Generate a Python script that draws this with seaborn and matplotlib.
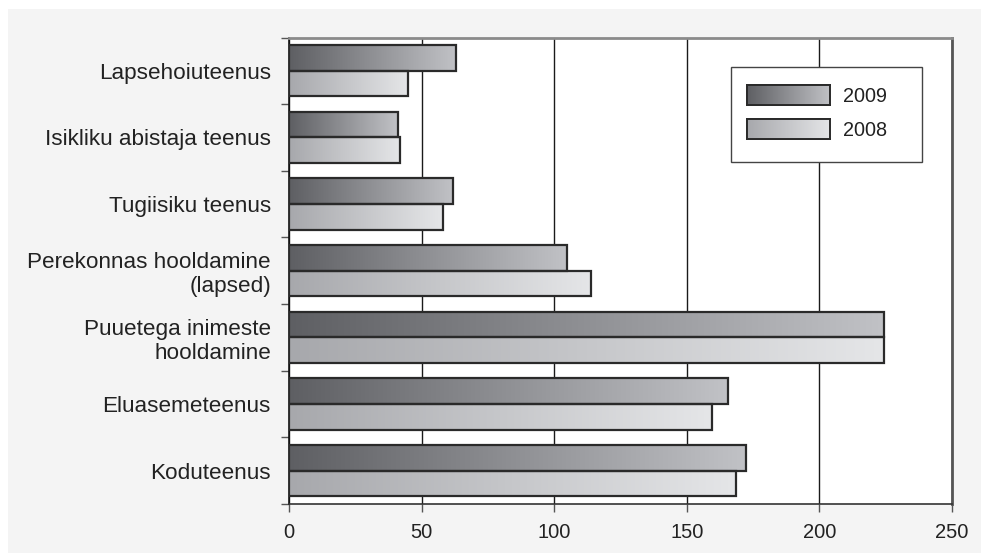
import numpy as np
import pandas as pd
import matplotlib
matplotlib.use("Agg")
import matplotlib.pyplot as plt
import seaborn as sns
from matplotlib.colors import LinearSegmentedColormap
from matplotlib.patches import Rectangle

categories = ["Lapsehoiuteenus", "Isikliku abistaja teenus", "Tugiisiku teenus",
              "Perekonnas hooldamine\n(lapsed)", "Puuetega inimeste\nhooldamine",
              "Eluasemeteenus", "Koduteenus"]
years = ["2009", "2008"]
values_2009 = [63, 41, 62, 105, 224.5, 165.5, 172.5]
values_2008 = [45, 42, 58, 114, 224.5, 159.5, 168.5]
x_ticks = [0, 50, 100, 150, 200, 250]

df = pd.DataFrame({
    "category": categories * 2,
    "year": [years[0]] * len(categories) + [years[1]] * len(categories),
    "value": values_2009 + values_2008,
})

sns.set_theme(style="white")
plt.rcParams["font.family"] = ["Liberation Sans", "DejaVu Sans"]

W, H = 981, 553
fig = plt.figure(figsize=(W / 100, H / 100), dpi=100, facecolor="white")
fig.patches.append(Rectangle((8 / W, 0), 1, (H - 9) / H, transform=fig.transFigure,
                             facecolor="#f4f4f4", edgecolor="none", zorder=-10))

ax = fig.add_axes([289 / W, (H - 504) / H, (952 - 289) / W, (504 - 37.5) / H])
ax.set_facecolor("white")

sns.barplot(data=df, x="value", y="category", hue="year", hue_order=years,
            order=categories, orient="h", width=0.77, ax=ax, legend=False,
            facecolor="none", edgecolor="#2a2a2a", linewidth=1.6, zorder=3)

cmaps = {
    0: LinearSegmentedColormap.from_list("g9", ["#5e5f63", "#c1c2c6"]),
    1: LinearSegmentedColormap.from_list("g8", ["#a7a8ac", "#e5e6e8"]),
}
grad = np.linspace(0, 1, 256).reshape(1, -1)
for ci, cont in enumerate(ax.containers):
    for p in cont:
        p.set_facecolor("none")
        p.set_edgecolor("#2a2a2a")
        p.set_zorder(3)
        x0, y0 = p.get_x(), p.get_y()
        w, h = p.get_width(), p.get_height()
        ax.imshow(grad, cmap=cmaps[ci], aspect="auto",
                  extent=[x0, x0 + w, y0 + h, y0], zorder=2.5, interpolation="bicubic")

ax.set_xlim(0, 250)
ax.set_ylim(len(categories) - 0.5, -0.5)
ax.set_xticks(x_ticks)
ax.set_xticklabels([str(t) for t in x_ticks])
ax.set_xlabel("")
ax.set_ylabel("")

# gridlines
ax.set_axisbelow(True)
ax.xaxis.grid(True, color="#1a1a1a", linewidth=1.0)
ax.yaxis.grid(False)

# y labels, right aligned
ax.set_yticks(np.arange(len(categories)))
ax.set_yticklabels(categories, fontsize=16.2, color="#222222", ha="right",
                   multialignment="right")
ax.tick_params(axis="y", which="major", length=0, pad=13)
ax.set_yticks(np.arange(len(categories) + 1) - 0.5, minor=True)
ax.tick_params(axis="y", which="minor", length=6, width=1, color="#555555", direction="out", left=True)
ax.tick_params(axis="x", length=6, width=1, color="#555555", direction="out",
               labelsize=14.5, labelcolor="#222222", pad=8, bottom=True)

for s, c, lw in [("top", "#8a8a8a", 2.0), ("right", "#555555", 2.0),
                 ("left", "#111111", 1.2), ("bottom", "#333333", 1.2)]:
    ax.spines[s].set_visible(True)
    ax.spines[s].set_color(c)
    ax.spines[s].set_linewidth(lw)

# legend frame (box in figure pixels)
fig.patches.append(Rectangle((731 / W, (H - 162) / H), (922 - 731) / W, (162 - 67) / H,
                             transform=fig.transFigure, facecolor="white",
                             edgecolor="#444444", linewidth=1.0, zorder=5))

handles = [Rectangle((0, 0), 1, 1, facecolor="none", edgecolor="#2a2a2a", linewidth=1.4)
           for _ in years]


def make_legend(ax_px, ay_px):
    lg = fig.legend(handles, years, loc="upper left",
                    bbox_to_anchor=(ax_px / W, (H - ay_px) / H),
                    bbox_transform=fig.transFigure,
                    fontsize=14.3, handlelength=4.2, handleheight=1.2, handletextpad=0.65,
                    labelspacing=0.65, borderpad=0, borderaxespad=0, frameon=False)
    lg.set_zorder(20)
    for t in lg.get_texts():
        t.set_color("#222222")
    return lg


target_x, target_top = 747.0, 85.0
leg = make_legend(target_x, target_top)
fig.canvas.draw()
renderer = fig.canvas.get_renderer()
bb = leg.get_patches()[0].get_window_extent(renderer)
dx = target_x - bb.x0
dy_top = (H - target_top) - bb.y1  # positive -> need to move up
leg.remove()
leg = make_legend(target_x + dx, target_top - dy_top)
fig.canvas.draw()

inv = fig.transFigure.inverted()
for i, hp in enumerate(leg.get_patches()):
    bb = hp.get_window_extent(renderer)
    (fx0, fy0), (fx1, fy1) = inv.transform([[bb.x0, bb.y0], [bb.x1, bb.y1]])
    iax = fig.add_axes([fx0, fy0, fx1 - fx0, fy1 - fy0], zorder=30)
    iax.imshow(grad, cmap=cmaps[i], aspect="auto", extent=[0, 1, 0, 1], interpolation="bicubic")
    iax.set_xticks([]); iax.set_yticks([])
    for s in iax.spines.values():
        s.set_color("#2a2a2a"); s.set_linewidth(1.4)

fig.savefig("out.png", dpi=100, facecolor="white")
